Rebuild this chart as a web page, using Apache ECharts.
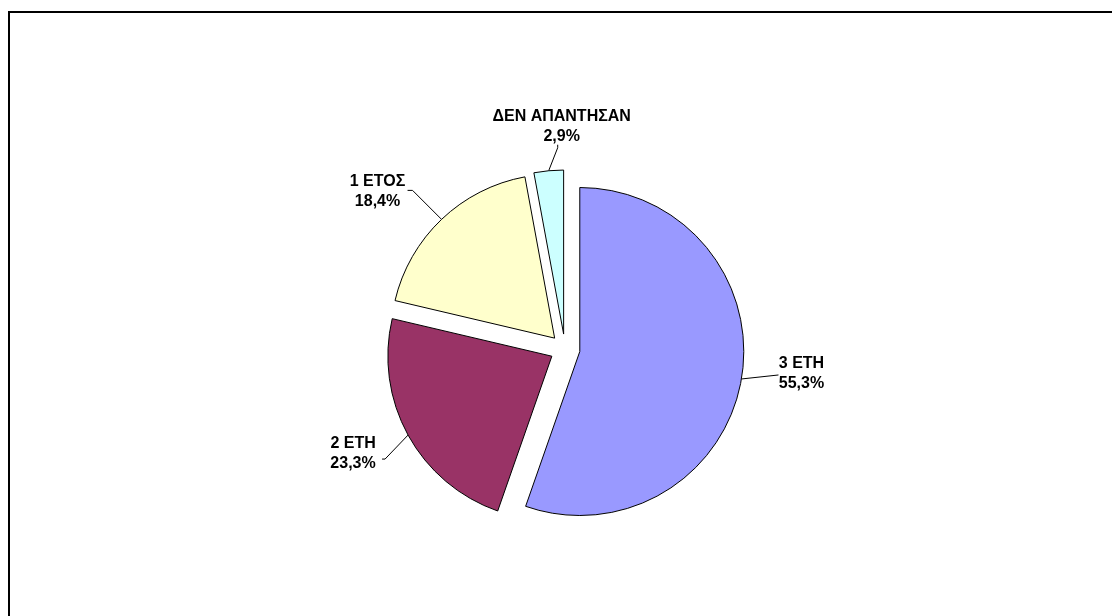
<!DOCTYPE html>
<html>
<head>
<meta charset="utf-8">
<script src="https://cdn.jsdelivr.net/npm/echarts@6/dist/echarts.min.js"></script>
<style>
html,body{margin:0;padding:0;background:#fff;}
#chart{width:1112px;height:616px;}
</style>
</head>
<body>
<div id="chart"></div>
<script>
const categories = ['3 ΕΤΗ', '2 ΕΤΗ', '1 ΕΤΟΣ', 'ΔΕΝ ΑΠΑΝΤΗΣΑΝ'];
const values = [55.3, 23.3, 18.4, 2.9];
const colors = ['#9999FF', '#993366', '#FFFFCC', '#CCFFFF'];

const PIE_CENTER = [565, 349];
const PIE_RADIUS = 164;
const EXPLODE = 15;
// label placement relative to the (exploded) arc anchor: [textDx, textDy, bendDx, bendDy, endDx, endDy]
const labelPlacement = [
  [60, -5, 37, -4, 37, -4],
  [-55, 19, -23, 24, -26, 24],
  [-64, -28, -29, -29, -34, -29],
  [13, -44, 9, -23, 9, -26]
];

const chart = echarts.init(document.getElementById('chart'), null, {renderer: 'canvas'});

const pieData = categories.map((c, i) => ({
  name: c, value: values[i], selected: true, itemStyle: {color: colors[i]}
}));
const labelData = categories.map((c, i) => ({name: c, value: values[i]}));

const fmt = p => p.name + '\n' + p.value.toFixed(1).replace('.', ',') + '%';

chart.setOption({
  animation: false,
  backgroundColor: '#fff',
  graphic: [{
    type: 'rect',
    shape: {x: 9, y: 12, width: 1200, height: 700},
    style: {fill: 'none', stroke: '#000', lineWidth: 2}
  }],
  series: [{
    type: 'pie',
    center: PIE_CENTER,
    radius: [0, PIE_RADIUS],
    startAngle: 90,
    clockwise: true,
    selectedMode: 'multiple',
    selectedOffset: EXPLODE,
    emphasis: {disabled: true},
    itemStyle: {borderColor: '#000', borderWidth: 1},
    label: {show: false},
    labelLine: {show: false},
    data: pieData
  }, {
    type: 'pie',
    center: PIE_CENTER,
    radius: [0, PIE_RADIUS],
    startAngle: 90,
    clockwise: true,
    silent: true,
    selectedMode: false,
    avoidLabelOverlap: false,
    emphasis: {disabled: true},
    itemStyle: {color: 'rgba(0,0,0,0)', borderWidth: 0},
    label: {
      show: true,
      position: 'outside',
      color: '#000',
      fontFamily: 'Liberation Sans, Arial, sans-serif',
      fontWeight: 'bold',
      fontSize: 16,
      lineHeight: 20,
      align: 'center',
      formatter: fmt
    },
    labelLine: {show: true, length: 20, length2: 5, lineStyle: {color: '#000', width: 1}},
    labelLayout: function (params) {
      const pts = params.labelLinePoints;
      if (!pts) return {};
      const p = pts[0];
      const ux = (p[0] - PIE_CENTER[0]) / PIE_RADIUS;
      const uy = (p[1] - PIE_CENTER[1]) / PIE_RADIUS;
      const ax = p[0] + ux * EXPLODE;
      const ay = p[1] + uy * EXPLODE;
      const s = labelPlacement[params.dataIndex];
      return {
        x: ax + s[0],
        y: ay + s[1],
        align: 'center',
        verticalAlign: 'middle',
        labelLinePoints: [[ax, ay], [ax + s[2], ay + s[3]], [ax + s[4], ay + s[5]]]
      };
    },
    data: labelData
  }]
});
</script>
</body>
</html>
